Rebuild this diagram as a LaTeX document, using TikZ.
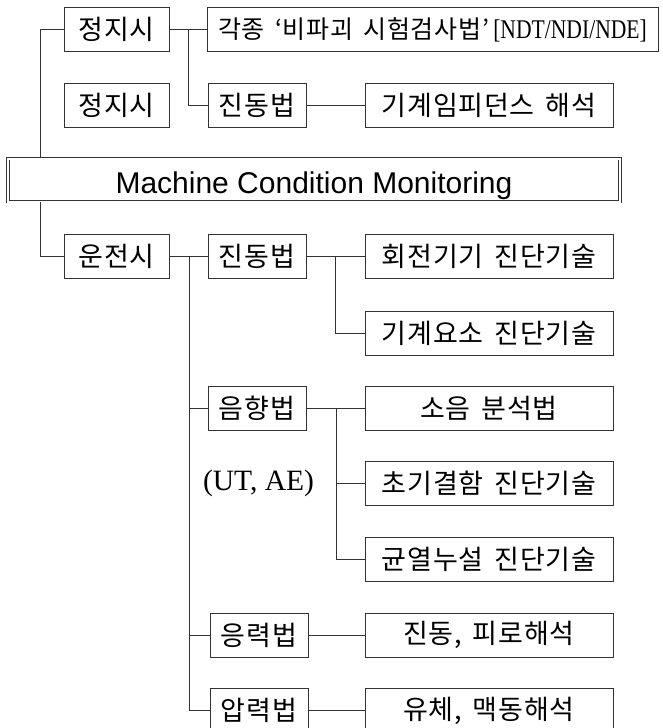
\documentclass[tikz,border=0pt]{standalone}
\usepackage{fontspec}
\setmainfont{Liberation Serif}
\newfontfamily\kr[WordSpace=1.6,LetterSpace=3]{Noto Sans CJK KR}
\newfontfamily\lsans{Liberation Sans}
\begin{document}
\begin{tikzpicture}[x=1pt,y=-1pt,
  line/.style={draw=black!80, line width=1pt},
  box/.style={draw=black!80, line width=1pt, inner sep=0pt, minimum height=44pt,
    font=\kr\fontsize{27}{32}\selectfont},
  lbox/.style={box, minimum width=105pt},
  mbox/.style={box, minimum width=98pt},
  rbox/.style={box, minimum width=248pt},
  dbox/.style={draw=black!80, line width=0.9pt, double=white, double distance=2pt,
    inner sep=0pt, minimum width=612pt, minimum height=43pt, text depth=0pt,
    font=\lsans\fontsize{30}{34}\selectfont}
]
\useasboundingbox (0,0) rectangle (663,728);
\clip (0,0) rectangle (663,728);
\fill[white] (0,0) rectangle (663,728);

% top part
\node[lbox] (s1) at (116.5,29.5) {정지시};
\node[box, minimum width=451pt, font=\kr\fontsize{25}{30}\selectfont] (nde) at (432.5,29.5)
  {각종 ‘비파괴 시험검사법’\,{\fontspec{Liberation Serif}\fontsize{27}{30}\selectfont\scalebox{0.8}[1]{[NDT/NDI/NDE]}}};
\node[lbox] (s2) at (116.5,105.5) {정지시};
\node[mbox] (v1) at (257,105.5) {진동법};
\node[rbox] (mi) at (489,105.5) {기계임피던스 해석};

% center
\node[dbox] (mcm) at (314,180) {\raisebox{-6pt}{Machine Condition Monitoring}};

% lower part
\node[lbox] (run) at (116.5,256.5) {운전시};
\node[mbox] (v2) at (257,256.5) {진동법};
\node[rbox] (rot) at (489,256.5) {회전기기 진단기술};
\node[rbox] (mach) at (489,333) {기계요소 진단기술};
\node[mbox] (ac) at (257,408) {음향법};
\node[rbox] (noise) at (489,408) {소음 분석법};
\node[font=\fontsize{29.5}{32}\selectfont, inner sep=0pt] (utae) at (258.5,483) {(UT, AE)};
\node[rbox] (init) at (489,483.5) {초기결함 진단기술};
\node[rbox] (crack) at (489,559) {균열누설 진단기술};
\node[mbox] (st) at (259,635) {응력법};
\node[rbox] (fat) at (489,635) {진동, 피로해석};
\node[mbox] (pr) at (259,710.5) {압력법};
\node[rbox] (flu) at (489,710.5) {유체, 맥동해석};

% junction coordinates
\coordinate (j0) at (40,29.5);
\coordinate (b1) at (188,29.5);
\coordinate (b2) at (189,256.5);
\coordinate (b3) at (335,256.5);
\coordinate (b4) at (336,408);

% connectors
\draw[line] (s1.west) -- (j0) -- (j0 |- mcm.north);
\draw[line] (s1.east) -- (nde.west);
\draw[line] (b1) |- (v1.west);
\draw[line] (v1.east) -- (mi.west);

\draw[line] (j0 |- mcm.south) |- (run.west);
\draw[line] (run.east) -- (v2.west);
\draw[line] (b2) |- (ac.west);
\draw[line] (b2) |- (st.west);
\draw[line] (b2) |- (pr.west);
\draw[line] (v2.east) -- (rot.west);
\draw[line] (b3) |- (mach.west);
\draw[line] (ac.east) -- (noise.west);
\draw[line] (b4) |- (init.west);
\draw[line] (b4) |- (crack.west);
\draw[line] (st.east) -- (fat.west);
\draw[line] (pr.east) -- (flu.west);
\end{tikzpicture}
\end{document}
